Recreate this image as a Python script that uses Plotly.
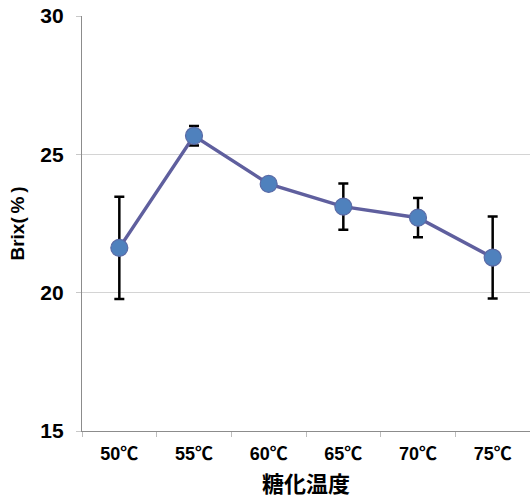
import plotly.graph_objects as go

categories = ["50℃", "55℃", "60℃", "65℃", "70℃", "75℃"]
brix = [21.62, 25.67, 23.93, 23.11, 22.71, 21.27]
brix_err = [1.85, 0.35, 0.15, 0.84, 0.71, 1.48]
y_ticks = [15, 20, 25, 30]

font_family = "Liberation Sans, Arial, Noto Sans CJK JP, sans-serif"

fig = go.Figure()
fig.add_trace(go.Scatter(
    x=categories, y=brix,
    mode="lines+markers",
    line=dict(color="#5F5F9E", width=3.5),
    marker=dict(size=17, color="#4F81BD", line=dict(color="#5A6AA6", width=1.2)),
    error_y=dict(type="data", array=brix_err, visible=True,
                 color="black", thickness=2.5, width=5),
    showlegend=False,
))

fig.update_layout(
    width=530, height=504,
    margin=dict(l=82, r=0, t=16, b=73),
    paper_bgcolor="white", plot_bgcolor="white",
    font=dict(family=font_family, color="black"),
    xaxis=dict(
        type="category", automargin=False,
        showline=True, linecolor="#8C8C8C", linewidth=1.2,
        ticks="outside", tickson="boundaries", ticklen=5, tickcolor="#BDBDBD",
        ticklabelstandoff=6,
        showgrid=False,
        tickfont=dict(size=18, family=font_family, weight="bold"),
        title=dict(text="糖化温度", font=dict(size=22, family="Noto Sans CJK JP", weight="bold"), standoff=13),
        range=[-0.5, 5.5],
    ),
    yaxis=dict(
        range=[15, 30], tickvals=y_ticks, automargin=False,
        ticklabeloverflow="allow",
        showline=True, linecolor="#8C8C8C", linewidth=1.2,
        showgrid=True, gridcolor="#D4D4D4", gridwidth=1,
        ticks="outside", ticklen=5, tickcolor="#C8C8C8",
        ticklabelstandoff=8,
        tickfont=dict(size=21, family=font_family, weight="bold"),
        title=dict(text="Brix(\u2009%\u2009)", font=dict(size=19, family=font_family, weight="bold"), standoff=10),
        zeroline=False,
    ),
)

fig.write_html("out.html", config={"displayModeBar": False},
               post_script="document.body.style.margin='0';")
